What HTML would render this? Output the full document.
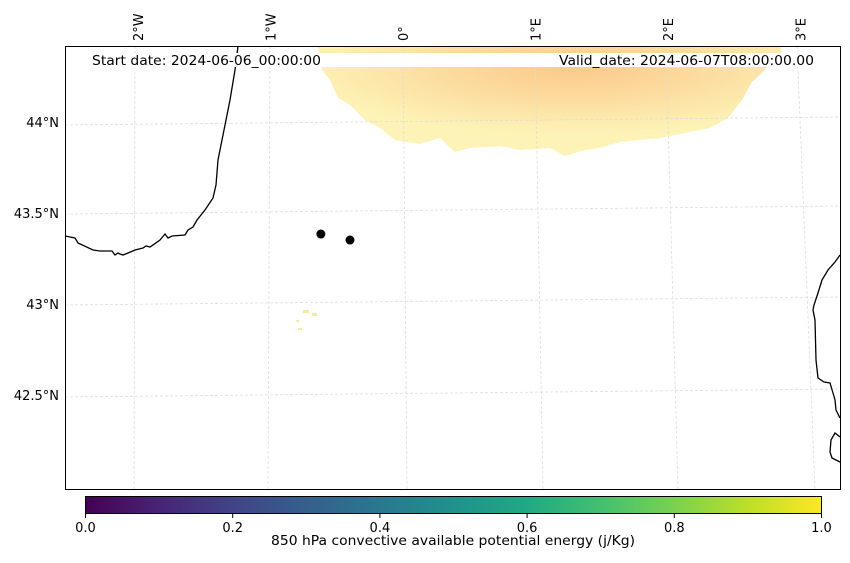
<!DOCTYPE html>
<html><head><meta charset="utf-8"><style>
body{margin:0;background:#fff;}
svg text{font-family:"DejaVu Sans","Liberation Sans",sans-serif;}
</style></head><body>
<svg width="850" height="558" viewBox="0 0 850 558" xmlns="http://www.w3.org/2000/svg">
<defs>
<linearGradient id="vir" x1="0" x2="1" y1="0" y2="0">
<stop offset="0" stop-color="#440154"/><stop offset="0.1" stop-color="#482475"/><stop offset="0.2" stop-color="#414487"/><stop offset="0.3" stop-color="#355f8d"/><stop offset="0.4" stop-color="#2a788e"/><stop offset="0.5" stop-color="#21918c"/><stop offset="0.6" stop-color="#22a884"/><stop offset="0.7" stop-color="#44bf70"/><stop offset="0.8" stop-color="#7ad151"/><stop offset="0.9" stop-color="#bddf26"/><stop offset="1" stop-color="#fde725"/>
</linearGradient>
<radialGradient id="heat" cx="0.55" cy="0.2" r="0.6">
<stop offset="0" stop-color="#fbc98a"/><stop offset="0.5" stop-color="#fcdda0"/><stop offset="1" stop-color="#fdf3b6"/>
</radialGradient>
<clipPath id="mapclip"><rect x="65" y="46" width="775" height="443"/></clipPath>
</defs>
<g clip-path="url(#mapclip)">
<path fill="url(#heat)" d="M318,46 L780,46 L782,52 L775,56 L765,70 L752,82 L742,100 L728,118 L710,128 L690,132 L660,138 L620,142 L600,148 L585,150 L565,156 L550,148 L520,150 L500,146 L470,148 L455,152 L440,138 L420,144 L395,140 L380,128 L365,120 L350,105 L338,98 L330,80 L322,70 L320,56 Z"/>
<g stroke="#ddd" stroke-dasharray="3,2" stroke-width="0.8" fill="none">
<path d="M65,125 L840,117"/><path d="M65,214 L840,206"/><path d="M65,305 L840,297"/><path d="M65,397 L840,389"/>
<path d="M135,46 L134,489"/><path d="M270,46 L268,489"/><path d="M403,46 L407,489"/><path d="M535,46 L543,489"/><path d="M666,46 L678,489"/><path d="M797,46 L815,489"/>
</g>
<g fill="#fde6a0">
<rect x="303" y="310" width="6" height="3"/><rect x="312" y="313" width="5" height="3"/><rect x="296" y="320" width="3" height="2"/><rect x="298" y="328" width="4" height="2"/>
</g>
<g fill="none" stroke="#000" stroke-width="1.3">
<path d="M238,46 L235,70 L230,100 L224,130 L218,160 L216,185 L213,198 L205,210 L197,220 L193,227 L188,230 L185,235 L172,236 L168,238 L165,234 L160,240 L150,247 L146,246 L143,248 L135,250 L128,253 L123,255 L120,254 L118,253 L115,255 L112,251 L100,251 L93,250 L78,243 L75,238 L65,236"/>
<path d="M840,255 L835,262 L828,270 L822,280 L818,293 L814,305 L813,310 L815,320 L816,360 L818,378 L824,382 L830,383 L833,393 L835,400 L836,410 L840,418"/>
<path d="M840,437 L835,433 L831,440 L830,452 L832,458 L840,462"/>
</g>
<g id="sites"></g>
</g>
<rect x="87" y="53" width="735" height="14" fill="#fff"/>
<text x="92" y="65" font-size="13.5" textLength="229" lengthAdjust="spacingAndGlyphs">Start date: 2024-06-06_00:00:00</text>
<text x="559" y="65" font-size="13.5" textLength="255" lengthAdjust="spacingAndGlyphs">Valid_date: 2024-06-07T08:00:00.00</text>
<rect x="65.5" y="46.5" width="775" height="443" fill="none" stroke="#000" stroke-width="1"/>
<g id="lonlabels" font-size="13"></g>
<g id="latlabels" font-size="13"></g>
<rect x="85.5" y="496.5" width="736" height="17" fill="url(#vir)" stroke="#000" stroke-width="1"/>
<g id="cbticks" font-size="13"></g>
<text x="271" y="545" font-size="13.5" textLength="364" lengthAdjust="spacingAndGlyphs">850 hPa convective available potential energy (j/Kg)</text>
</svg>
<script>
const siteLon = [-0.62, -0.40];
const siteLat = [43.39, 43.357];
const lonTicks = [-2, -1, 0, 1, 2, 3];
const lonTickLabels = ["2°W", "1°W", "0°", "1°E", "2°E", "3°E"];
const latTicks = [44, 43.5, 43, 42.5];
const latTickLabels = ["44°N", "43.5°N", "43°N", "42.5°N"];
const cbTicks = [0, 0.2, 0.4, 0.6, 0.8, 1.0];
const cbTickLabels = ["0.0", "0.2", "0.4", "0.6", "0.8", "1.0"];
const NS = "http://www.w3.org/2000/svg";
function xLon(l){return 403 + l*132.5;}
function yLat(a){return 305 - (a-43)*182;}
function xCb(v){return 85.5 + v*736;}
const sites = document.getElementById('sites');
siteLon.forEach((l,i)=>{
  const c = document.createElementNS(NS,'circle');
  c.setAttribute('cx', xLon(l)); c.setAttribute('cy', yLat(siteLat[i])); c.setAttribute('r', 4.5);
  c.setAttribute('fill', '#000');
  
  
  sites.appendChild(c);
});
const lg = document.getElementById('lonlabels');
lonTicks.forEach((l,i)=>{
  const t = document.createElementNS(NS,'text');
  const x = xLon(l)+5, y = 41;
  t.setAttribute('transform', `translate(${x},${y}) rotate(-90)`);
  t.textContent = lonTickLabels[i];
  
  
  lg.appendChild(t);
});
const ag = document.getElementById('latlabels');
latTicks.forEach((a,i)=>{
  const t = document.createElementNS(NS,'text');
  t.setAttribute('x', 59); t.setAttribute('y', yLat(a)+4); t.setAttribute('text-anchor','end');
  t.textContent = latTickLabels[i];
  
  
  ag.appendChild(t);
});
const cg = document.getElementById('cbticks');
cbTicks.forEach((v,i)=>{
  const ln = document.createElementNS(NS,'line');
  ln.setAttribute('x1', xCb(v)); ln.setAttribute('x2', xCb(v)); ln.setAttribute('y1', 514); ln.setAttribute('y2', 518);
  ln.setAttribute('stroke', '#000');
  
  
  cg.appendChild(ln);
  const t = document.createElementNS(NS,'text');
  t.setAttribute('x', xCb(v)); t.setAttribute('y', 532); t.setAttribute('text-anchor','middle');
  t.textContent = cbTickLabels[i];
  
  
  cg.appendChild(t);
});
</script>
</body></html>
